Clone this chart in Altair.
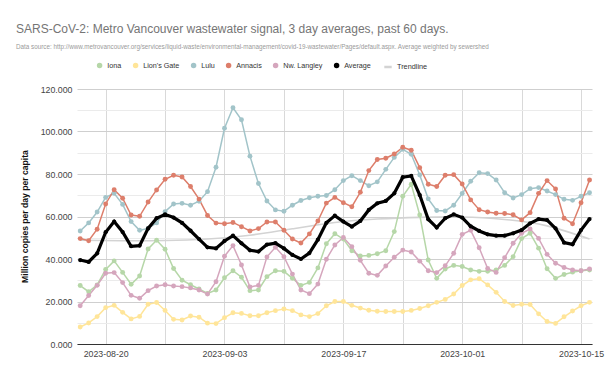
import altair as alt
import pandas as pd

# ---------------- data ----------------
start_date = "2023-08-17"
n_days = 61
dates = pd.date_range(start_date, periods=n_days).strftime("%Y-%m-%d").tolist()

series_names = ["Iona", "Lion's Gate", "Lulu", "Annacis", "Nw. Langley", "Average"]
series_colors = ["#b6d7a8", "#ffe599", "#a2c4c9", "#dd7e6b", "#d5a6bd", "#000000"]
trend_name = "Trendline"
trend_color = "#d3d3d3"

iona = [27.5, 24.6, 27.8, 35.1, 39.1, 33.7, 28.1, 32.0, 44.7, 48.8,
        44.6, 35.5, 30.0, 27.9, 25.9, 23.8, 25.4, 31.2, 34.5, 31.4,
        25.1, 25.4, 31.7, 34.5, 34.2, 30.9, 27.6, 29.0, 35.8, 47.2,
        51.9, 49.4, 43.9, 41.4, 41.7, 42.5, 43.9, 52.9, 69.5, 75.2,
        60.7, 39.5, 30.9, 35.3, 37.0, 36.5, 34.8, 34.2, 34.2, 34.8,
        37.0, 41.1, 49.6, 52.1, 45.1, 35.4, 30.9, 32.7, 33.8, 34.5, 34.8]
lions_gate = [8.0, 9.9, 12.9, 17.1, 18.2, 14.9, 11.8, 13.0, 18.7, 19.5,
              15.8, 11.6, 11.3, 13.2, 12.6, 9.8, 9.6, 12.4, 14.7, 14.4,
              13.3, 13.3, 14.7, 15.7, 16.5, 15.7, 13.7, 12.9, 14.3, 18.0,
              20.0, 20.0, 18.2, 16.9, 15.9, 15.4, 15.3, 15.3, 15.3, 15.8,
              16.7, 18.0, 19.6, 21.0, 23.5, 27.5, 30.2, 30.7, 27.8, 24.3,
              20.0, 18.1, 18.7, 18.6, 14.2, 10.6, 9.7, 12.8, 15.5, 18.0, 19.6]
lulu = [53.2, 57.0, 62.1, 69.0, 70.9, 65.7, 57.6, 53.5, 54.4, 57.0,
        62.3, 65.9, 66.2, 65.3, 67.2, 71.7, 83.2, 101.5, 111.2, 105.5,
        88.4, 75.5, 67.3, 63.1, 62.5, 65.3, 67.5, 68.8, 69.5, 69.9,
        72.6, 76.9, 79.2, 76.9, 74.5, 76.3, 82.2, 87.8, 91.6, 89.3,
        79.5, 68.3, 62.8, 62.6, 65.3, 70.8, 76.6, 80.6, 80.2, 77.2,
        71.2, 68.7, 70.3, 73.1, 73.6, 72.0, 70.3, 68.1, 67.6, 69.5, 71.2]
annacis = [49.6, 48.6, 54.0, 65.9, 72.6, 68.6, 60.7, 60.1, 66.8, 72.5,
           77.5, 79.4, 78.6, 74.1, 68.2, 60.5, 56.9, 56.6, 57.2, 55.2,
           53.2, 54.3, 57.4, 57.4, 53.5, 49.4, 47.5, 51.8, 57.9, 66.3,
           69.0, 66.5, 64.6, 71.4, 81.6, 86.8, 87.4, 89.4, 92.6, 91.2,
           83.0, 75.2, 74.1, 79.4, 79.7, 75.3, 67.8, 63.2, 62.1, 61.5,
           61.4, 60.8, 58.4, 61.8, 70.9, 76.9, 73.0, 59.2, 56.6, 66.5, 77.2]
nw_langley = [18.0, 22.8, 27.6, 33.3, 33.6, 28.9, 22.9, 21.5, 25.1, 27.3,
              27.9, 27.3, 27.0, 26.4, 25.4, 23.5, 29.3, 41.3, 46.3, 37.2,
              26.8, 27.6, 41.0, 45.5, 41.1, 32.9, 25.4, 23.7, 28.2, 39.9,
              46.6, 50.1, 45.8, 39.4, 33.3, 32.3, 36.7, 40.8, 44.2, 43.3,
              39.0, 34.5, 33.6, 36.8, 42.7, 51.6, 53.5, 45.3, 35.5, 33.7,
              40.6, 47.4, 52.1, 54.1, 49.7, 42.2, 38.0, 36.0, 34.8, 34.5, 35.3]
average = [39.5, 38.6, 42.7, 52.6, 57.6, 52.7, 46.0, 46.3, 54.4, 59.2,
           61.0, 59.5, 57.0, 53.3, 49.4, 45.5, 45.0, 48.5, 51.0, 47.4,
           44.1, 43.5, 46.8, 47.5, 45.0, 41.9, 40.0, 42.8, 49.1, 57.0,
           60.4, 57.6, 55.2, 57.9, 63.1, 66.2, 67.3, 70.9, 78.5, 79.1,
           70.1, 58.7, 54.8, 59.2, 61.0, 59.5, 55.4, 53.2, 51.6, 51.0,
           51.0, 52.1, 53.6, 56.8, 58.8, 58.3, 54.4, 47.7, 46.9, 53.6, 58.8]

trend_days = ["2023-08-17", "2023-08-22", "2023-08-27", "2023-09-01",
              "2023-09-06", "2023-09-11", "2023-09-16", "2023-09-21",
              "2023-09-26", "2023-10-01", "2023-10-06", "2023-10-11",
              "2023-10-16"]
trend_values = [48.8, 48.6, 48.7, 49.4, 51.2, 54.2, 57.2, 58.8,
                59.6, 59.8, 58.6, 55.6, 49.4]

grid_dates = ["2023-08-20", "2023-08-27", "2023-09-03", "2023-09-10",
              "2023-09-17", "2023-09-24", "2023-10-01", "2023-10-08",
              "2023-10-15"]
label_dates = ["2023-08-20", "2023-09-03", "2023-09-17", "2023-10-01",
               "2023-10-15"]
y_grid = [0, 10, 20, 30, 40, 50, 60, 70, 80, 90, 100, 110, 120]

title_text = "SARS-CoV-2: Metro Vancouver wastewater signal, 3 day averages, past 60 days."
subtitle_text = ("Data source: http://www.metrovancouver.org/services/liquid-waste/"
                 "environmental-management/covid-19-wastewater/Pages/default.aspx. "
                 "Average weighted by sewershed")
y_title = "Million copies per day per capita"

# ---------------- build tables ----------------
rows = []
for name, vals in zip(series_names, [iona, lions_gate, lulu, annacis, nw_langley, average]):
    for d, v in zip(dates, vals):
        rows.append({"date": d, "value": v, "station": name, "line": name})
df = pd.DataFrame(rows)
trend_df = pd.DataFrame({"date": trend_days, "value": trend_values, "line": trend_name})


def dt(s, hours=0):
    y, m, d = (int(p) for p in s.split("-"))
    return alt.DateTime(year=y, month=m, date=d, hours=hours, utc=True)


REG = "Liberation Sans, Arial, sans-serif"

label_list = ",".join("'" + s + "'" for s in label_dates)
x_enc = alt.X(
    "date:T",
    scale=alt.Scale(type="utc", domain=[dt("2023-08-16", 15), dt("2023-10-16", 7)]),
    axis=alt.Axis(
        values=[dt(s) for s in grid_dates],
        labelExpr="indexof([" + label_list + "], utcFormat(datum.value, '%Y-%m-%d')) >= 0 ? utcFormat(datum.value, '%Y-%m-%d') : ''",
        grid=True, gridColor="#d9d9d9", gridWidth=1,
        ticks=False, domain=True, domainColor="#333333", domainWidth=1,
        labelFont=REG, labelFontSize=8.8, labelColor="#444444", labelPadding=5,
        labelOverlap=False, labelFlush=False, title=None,
    ),
)
y_enc = alt.Y(
    "value:Q",
    scale=alt.Scale(domain=[0, 120], nice=False),
    axis=alt.Axis(
        values=y_grid,
        labelExpr="datum.value % 20 == 0 ? format(datum.value, '.3f') : ''",
        gridColor={"condition": {"test": "datum.value % 20 == 0", "value": "#cfcfcf"},
                   "value": "#ebebeb"},
        gridWidth=1, ticks=False, domain=False,
        labelFont=REG, labelFontSize=8.8, labelColor="#444444", labelPadding=5,
        title=y_title, titleFont=REG, titleFontSize=8.6, titleFontWeight="bold",
        titleColor="#111111", titleAngle=270, titleX=-53, titleY=127,
        titleAlign="center", titleBaseline="middle",
    ),
)

stroke_scale = alt.Scale(domain=series_names + [trend_name], range=series_colors + [trend_color])
fill_scale = alt.Scale(domain=series_names, range=series_colors)

stroke_legend = alt.Legend(
    values=[trend_name], orient="none", legendX=306, legendY=-27, title=None,
    symbolType="stroke", symbolSize=55, symbolStrokeWidth=2.5, symbolStrokeColor=trend_color,
    labelFont=REG, labelFontSize=7.3, labelColor="#333333", labelOffset=4, padding=0,
)
fill_legend = alt.Legend(
    orient="none", legendX=19, legendY=-27, direction="horizontal", title=None,
    symbolType="circle", symbolSize=30, symbolStrokeWidth=0,
    labelFont=REG, labelFontSize=7.2, labelColor="#333333", labelOffset=4,
    columnPadding=10, padding=0, gridAlign="none",
)

stroke_enc = alt.Stroke("line:N", scale=stroke_scale, legend=stroke_legend)

base = alt.Chart(df).encode(x=x_enc, y=y_enc)
stations_only = alt.datum.station != "Average"
avg_only = alt.datum.station == "Average"

trend_layer = alt.Chart(trend_df).mark_line(interpolate="natural", strokeWidth=1.6).encode(
    x=x_enc, y=y_enc, stroke=stroke_enc)
station_lines = base.transform_filter(stations_only).mark_line(strokeWidth=1.5).encode(
    stroke=stroke_enc, detail="line:N")
station_pts = base.transform_filter(stations_only).mark_circle(size=24, opacity=1).encode(
    fill=alt.Fill("station:N", scale=fill_scale, legend=fill_legend))
avg_line = base.transform_filter(avg_only).mark_line(strokeWidth=3.2).encode(stroke=stroke_enc)
avg_pts = base.transform_filter(avg_only).mark_circle(size=18, opacity=1).encode(
    fill=alt.Fill("station:N", scale=fill_scale, legend=fill_legend))

chart = alt.layer(trend_layer, station_lines, station_pts, avg_line, avg_pts).properties(
    width=515, height=255,
    title=alt.TitleParams(
        text=title_text, subtitle=subtitle_text, anchor="start", frame="group",
        font=REG, fontSize=12, fontWeight="normal", color="#757575",
        subtitleFont=REG, subtitleFontSize=6.3, subtitleColor="#9a9a9a",
        subtitlePadding=8, dx=-61, offset=11,
    ),
    autosize=alt.AutoSizeParams(type="none"),
    padding={"left": 77, "top": 89, "right": 19, "bottom": 33},
    background="white",
).configure_view(stroke=None)

chart.save("out.html", embed_options={"renderer": "svg", "actions": False})
